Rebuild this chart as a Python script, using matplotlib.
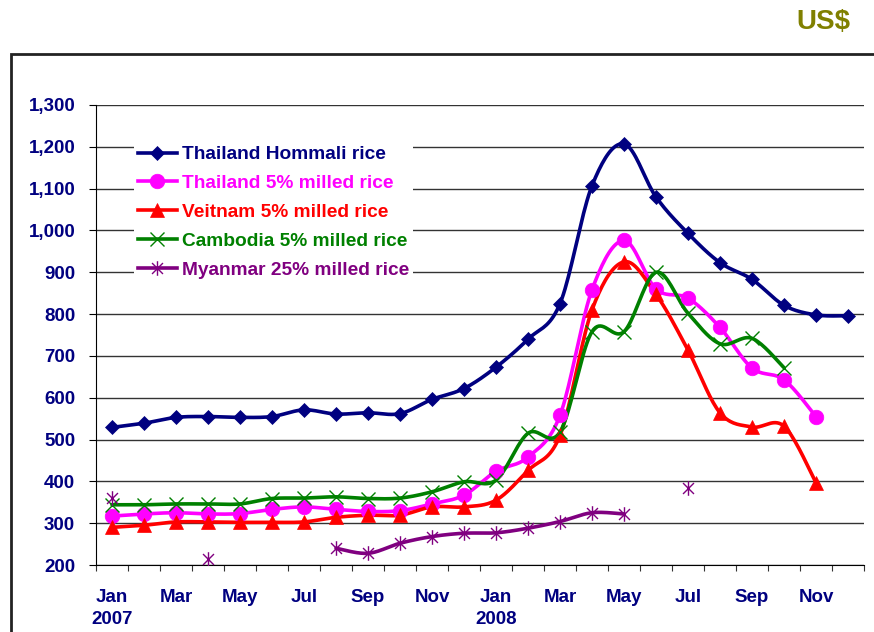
import numpy as np
import matplotlib
matplotlib.use("Agg")
from matplotlib import pyplot as plt
from matplotlib.lines import Line2D
from matplotlib.patches import Rectangle
from matplotlib.path import Path

plt.rcParams["font.family"] = ["Liberation Sans", "DejaVu Sans"]
plt.rcParams["font.weight"] = "bold"

nan = np.nan
months = ["Jan\n2007", "Feb", "Mar", "Apr", "May", "Jun", "Jul", "Aug", "Sep", "Oct", "Nov", "Dec",
          "Jan\n2008", "Feb", "Mar", "Apr", "May", "Jun", "Jul", "Aug", "Sep", "Oct", "Nov", "Dec"]

thai_hommali = [529, 539, 553, 555, 553, 555, 571, 561, 564, 562, 596, 622,
                673, 740, 825, 1107, 1207, 1080, 993, 923, 883, 821, 798, 796]
thai_5 = [317, 322, 325, 322, 323, 333, 339, 333, 328, 330, 346, 367,
          424, 458, 558, 858, 976, 860, 838, 768, 671, 643, 555, nan]
vietnam_5 = [290, 295, 303, 303, 302, 302, 303, 314, 319, 319, 339, 339,
             355, 426, 510, 810, 925, 847, 714, 564, 530, 532, 397, nan]
cambodia_5 = [344, 344, 346, 346, 346, 359, 360, 363, 359, 360, 375, 399,
              403, 515, 518, 758, 758, 900, 802, 729, 742, 672, nan, nan]
myanmar_25 = [360, nan, nan, 214, nan, nan, nan, 240, 228, 252, 268, 276,
              277, 288, 304, 325, 322, nan, 383, nan, nan, nan, nan, nan]

labels = ["Thailand Hommali rice", "Thailand 5% milled rice", "Veitnam 5% milled rice",
          "Cambodia 5% milled rice", "Myanmar 25% milled rice"]
colors = ["#000080", "#FF00FF", "#FF0000", "#008000", "#800080"]

asterisk = Path([(0, -1), (0, 1), (-0.75, -0.75), (0.75, 0.75), (-0.75, 0.75), (0.75, -0.75)],
                [Path.MOVETO, Path.LINETO, Path.MOVETO, Path.LINETO, Path.MOVETO, Path.LINETO])
markers = [("D", 7.5), ("o", 10.5), ("^", 10.5), ("x", 9.5), (asterisk, 10.5)]


def smooth(x, y, n=20):
    # bezier smoothing like excel, per contiguous run
    x = np.asarray(x, float)
    y = np.asarray(y, float)
    runs, cur = [], []
    for xi, yi in zip(x, y):
        if np.isnan(yi):
            if cur:
                runs.append(cur)
            cur = []
        else:
            cur.append((xi, yi))
    if cur:
        runs.append(cur)
    out = []
    for r in runs:
        if len(r) < 2:
            continue
        p = np.array(r)
        pts = [p[0]]
        for i in range(len(p) - 1):
            p0 = p[i - 1] if i > 0 else p[i]
            p3 = p[i + 2] if i + 2 < len(p) else p[i + 1]
            b0, b3 = p[i], p[i + 1]
            b1 = b0 + (b3 - p0) / 6
            b2 = b3 - (p3 - b0) / 6
            t = np.linspace(0, 1, n)[1:, None]
            seg = (1 - t) ** 3 * b0 + 3 * (1 - t) ** 2 * t * b1 + 3 * (1 - t) * t ** 2 * b2 + t ** 3 * b3
            pts.extend(seg)
        out.append(np.array(pts))
    return out


fig = plt.figure(figsize=(8.74, 6.32), dpi=100)
ax = fig.add_axes([96 / 874, 1 - 565 / 632, 768 / 874, 460 / 632])

x = np.arange(len(months))
series = [thai_hommali, thai_5, vietnam_5, cambodia_5, myanmar_25]
handles = []
for s, c, (m, ms), lab in zip(series, colors, markers, labels):
    for seg in smooth(x, s):
        ax.plot(seg[:, 0], seg[:, 1], color=c, lw=2.6, solid_capstyle="round", zorder=3)
    filled = m not in ("x",) and not isinstance(m, Path)
    mew = 0.5 if filled else 1
    ax.plot(x, s, ls="none", marker=m, ms=ms, color=c, mew=mew, zorder=4)
    handles.append(Line2D([], [], color=c, lw=2.6, marker=m, ms=ms, mew=mew))

ax.set_xlim(-0.5, 23.5)
ax.set_ylim(200, 1300)
ax.set_yticks(np.arange(200, 1301, 100))
ax.set_yticklabels([f"{v:,}" for v in range(200, 1301, 100)])
ax.yaxis.grid(True, color="#333333", lw=1)
ax.set_axisbelow(True)

ax.set_xticks(np.arange(-0.5, 24, 1))
ax.set_xticklabels([])
ax.set_xticks(x[::2], minor=True)
ax.set_xticklabels(months[::2], minor=True, linespacing=1.45)
ax.tick_params(axis="x", which="major", length=4.5, direction="out", color="#333333")
ax.tick_params(axis="x", which="minor", length=0, pad=17, labelsize=13.5, labelcolor="#000080")
ax.tick_params(axis="y", length=5, pad=10, labelsize=13.5, labelcolor="#000080")
for lab in ax.get_xticklabels(minor=True):
    lab.set_fontweight("bold")
for lab in ax.get_yticklabels():
    lab.set_fontweight("bold")

for sp in ("top", "right"):
    ax.spines[sp].set_visible(False)
ax.spines["left"].set_color("black")
ax.spines["bottom"].set_color("black")

leg = ax.legend(handles, labels, loc="upper left", bbox_to_anchor=(134 / 874, 1 - 142 / 632),
                bbox_transform=fig.transFigure, frameon=True, facecolor="white", edgecolor="none",
                framealpha=1, fontsize=13.8, handlelength=2.05, handletextpad=0.26, labelspacing=0.6,
                borderpad=0.2, borderaxespad=0)
for t, c in zip(leg.get_texts(), colors):
    t.set_color(c)
    t.set_fontweight("bold")

fig.add_artist(Rectangle((11 / 874, -0.2), 1.2, 1.2 - 54 / 632, transform=fig.transFigure,
                         fill=False, lw=2, ec="#222222"))
fig.text(823 / 874, 1 - 22 / 632, "US$", color="#808000", fontsize=20, fontweight="bold",
         ha="center", va="center")

fig.savefig("out.png", dpi=100)
